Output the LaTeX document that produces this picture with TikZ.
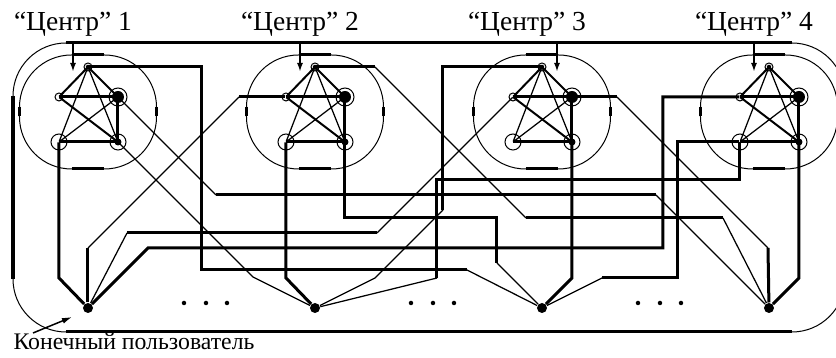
\documentclass[tikz,border=0pt]{standalone}
\usepackage{fontspec}
\setmainfont{Liberation Serif}
\usepackage{tikz}
\usetikzlibrary{arrows.meta}

\begin{document}
\begin{tikzpicture}[x=0.4pt,y=-0.4pt,
    wire/.style={line width=1.2pt},
    link/.style={line width=0.5pt},
    edge/.style={line width=0.8pt},
    rim/.style={line width=0.4pt},
    feed/.style={line width=1pt,-{Latex[length=3.6pt,width=2.4pt]}},
    pointer/.style={line width=0.6pt,-{Latex[length=4pt,width=2.4pt]}},
    port/.style={circle,inner sep=0pt,minimum size=0pt},
    user/.style={circle,fill=black,inner sep=0pt,minimum size=4pt},
    hublabel/.style={anchor=base,inner sep=0pt,font=\fontsize{11}{13}\selectfont}]
  \useasboundingbox (0,0) rectangle (836,358);
  \clip (0,0) rectangle (836,358);

  % --- outer ring ---
  \draw[rim, rounded corners=21.2pt] (13,43) rectangle (845,332);
  \draw[wire] (66,43) -- (792,43) (66,332) -- (792,332) (13,96) -- (13,279);

  % --- centres ---
  \foreach \i/\cx/\ax in {1/88/-15, 2/315/-15, 3/542/15, 4/769/-15} {
    \draw[rim, rounded corners=20.8pt] (\cx-68.5,55) rectangle (\cx+68.5,169);
    \draw[wire] (\cx-16,55) -- (\cx+16,55) (\cx-16,169) -- (\cx+16,169)
      (\cx-68.5,107) -- (\cx-68.5,116) (\cx+68.5,107) -- (\cx+68.5,116);
    \node[port] (t\i) at (\cx,67) {};
    \node[port] (l\i) at (\cx-29,97) {};
    \node[port] (r\i) at (\cx+30,97) {};
    \node[port] (bl\i) at (\cx-29,142) {};
    \node[port] (br\i) at (\cx+30,142) {};
    \draw[edge] (l\i) -- (t\i) -- (r\i) (l\i) -- (br\i);
    \draw[link] (bl\i) -- (t\i) -- (br\i) (r\i) -- (bl\i);
    \draw[wire] (l\i) -- (r\i) -- (br\i) -- (bl\i) -- cycle;
    \node[hublabel] (n\i) at (\cx-15,31) {“Центр” \i};
    \draw[feed] (\cx+\ax,43) -- (\cx+\ax,72);
  }

  % --- end users ---
  \foreach \i/\cx in {1/88, 2/315, 3/542, 4/769}
    \node[user] (u\i) at (\cx,308) {};
  \foreach \cx in {88,315,542}
    \foreach \d in {96,118,139}
      \fill (\cx+\d,303) circle[radius=0.9pt];

  % --- wires ---
  \draw[wire] (t1) -- (202,67) -- (202,270) -- (467,270);
  \draw[link] (467,270) -- (u3);
  \draw[link] (r1) -- (216,195);
  \draw[wire] (216,195) -- (656,195);
  \draw[link] (656,195) -- (u4);
  \draw[link] (br1) -- (253,277) -- (u2);
  \draw[wire] (bl1) -- (59,278) -- (u1);
  \draw[wire] (u1) -- (88,248);
  \draw[link] (88,248) -- (239,97);
  \draw[wire] (239,97) -- (l2);
  \draw[link] (u1) -- (127,233);
  \draw[wire] (127,233) -- (377,233);
  \draw[link] (377,233) -- (l3);
  \draw[wire] (u1) -- (148,248) -- (663,248) -- (663,97) -- (l4);
  \draw[wire] (t2) -- (375,67);
  \draw[link] (375,67) -- (526,218);
  \draw[wire] (526,218) -- (723,218);
  \draw[link] (723,218) -- (u4);
  \draw[wire] (bl2) -- (286,278) -- (u2);
  \draw[wire] (br2) -- (345,218) -- (497,218) -- (497,263);
  \draw[link] (497,263) -- (u3);
  \draw[wire] (t3) -- (443,67) -- (443,210);
  \draw[link] (443,210) -- (375,278) -- (u2);
  \draw[link] (u2) -- (437,278);
  \draw[wire] (437,278) -- (437,180) -- (740,180) -- (bl4);
  \draw[wire] (br3) -- (572,278) -- (u3);
  \draw[wire] (r3) -- (617,97);
  \draw[link] (617,97) -- (768,248);
  \draw[wire] (768,248) -- (u4);
  \draw[wire] (bl4) -- (678,142) -- (678,278) -- (602,278);
  \draw[link] (602,278) -- (u3);
  \draw[wire] (br4) -- (799,278) -- (u4);

  % --- port marks ---
  \foreach \i in {1,...,4} {
    \draw[rim] (t\i) circle[radius=1.6pt] (l\i) circle[radius=1.6pt]
      (r\i) circle[radius=3.6pt] (bl\i) circle[radius=3.2pt] (br\i) circle[radius=3.2pt];
    \fill (t\i) circle[radius=0.9pt] (r\i) circle[radius=2.4pt] (br\i) circle[radius=1.4pt];
  }

  \node[anchor=base west, inner sep=0pt, font=\fontsize{9.5}{11}\selectfont] (eu) at (13,350) {Конечный пользователь};
  \draw[pointer] (33,333) -- (72,317);
\end{tikzpicture}
\end{document}
